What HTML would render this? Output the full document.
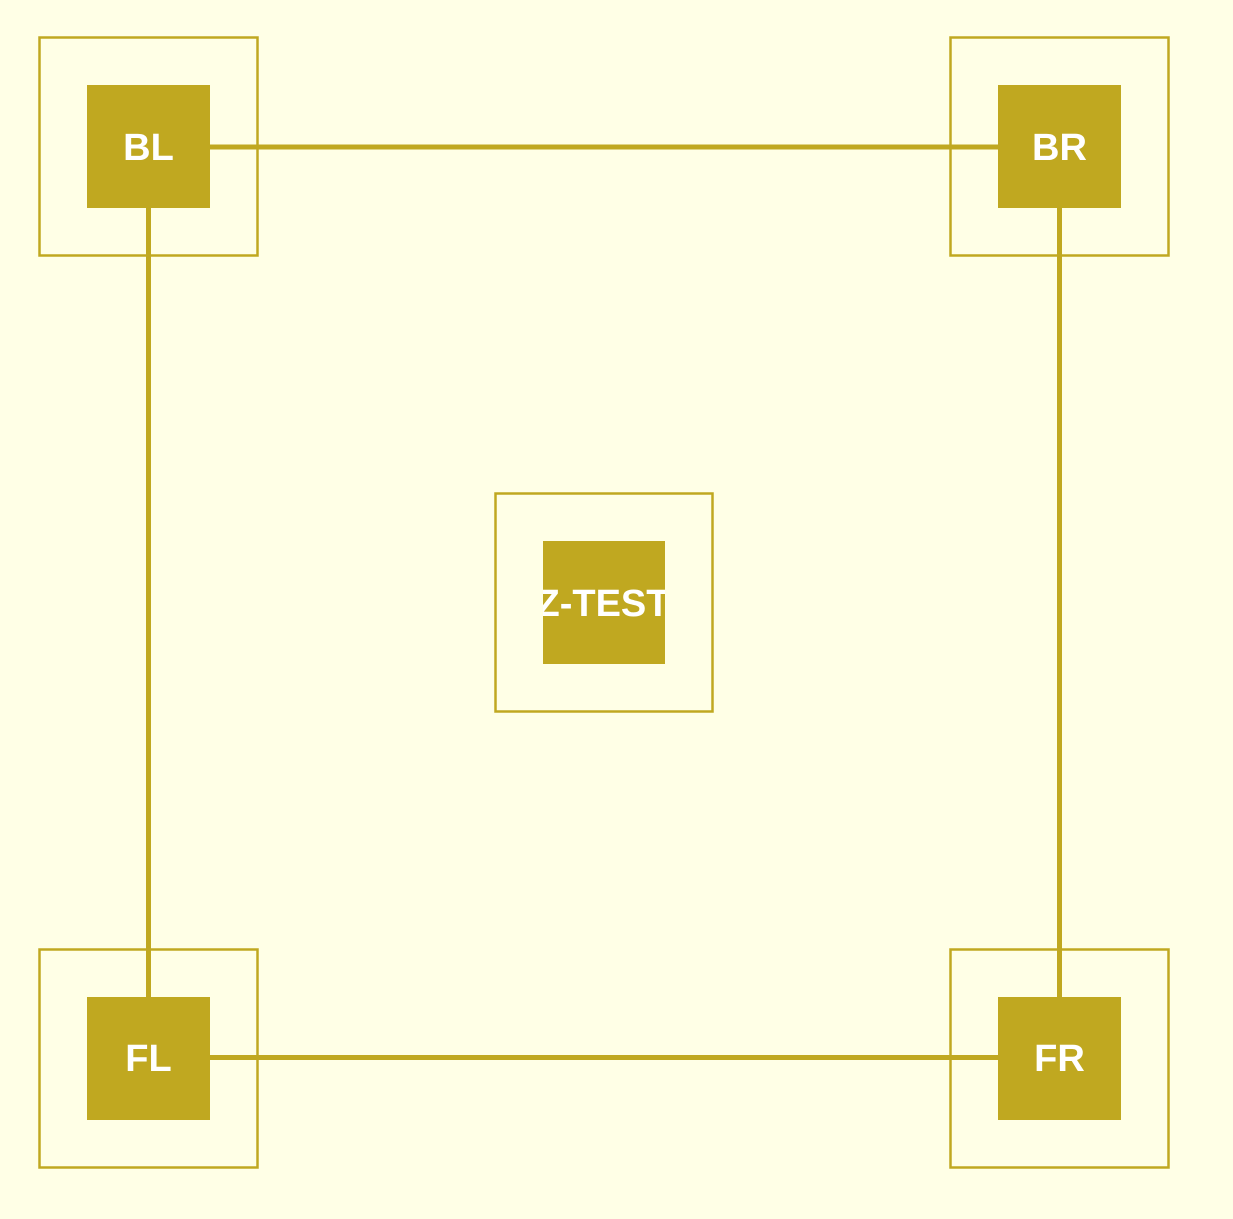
<!DOCTYPE html>
<html><head><style>
html,body{margin:0;padding:0;background:#ffffe6;}
svg{display:block}
text{font-family:"Liberation Sans",sans-serif;font-weight:bold;fill:#fff;}
</style></head><body>
<svg width="1233" height="1219" viewBox="0 0 1233 1219" xmlns="http://www.w3.org/2000/svg">
<rect width="1233" height="1219" fill="#ffffe6"/>
<defs><clipPath id="zc"><rect x="543" y="541" width="122" height="123"/></clipPath></defs>
<g fill="none" stroke="#c0a820" stroke-width="2.5">
<rect x="39.5" y="37.5" width="218" height="218"/>
<rect x="950.5" y="37.5" width="218" height="218"/>
<rect x="39.5" y="949.5" width="218" height="218"/>
<rect x="950.5" y="949.5" width="218" height="218"/>
<rect x="495.5" y="493.5" width="217" height="218"/>
</g>
<g stroke="#c0a820" stroke-width="5">
<line x1="148.5" y1="147" x2="1059.5" y2="147"/>
<line x1="148.5" y1="1057.5" x2="1059.5" y2="1057.5"/>
<line x1="148.5" y1="147" x2="148.5" y2="1057.5"/>
<line x1="1059.5" y1="147" x2="1059.5" y2="1057.5"/>
</g>
<g fill="#c0a820">
<rect x="87" y="85" width="123" height="123"/>
<rect x="998" y="85" width="123" height="123"/>
<rect x="87" y="997" width="123" height="123"/>
<rect x="998" y="997" width="123" height="123"/>
<rect x="543" y="541" width="122" height="123"/>
</g>
<g font-size="38" text-anchor="middle">
<text x="148.5" y="160">BL</text>
<text x="1059.5" y="160">BR</text>
<text x="148.5" y="1071">FL</text>
<text x="1059.5" y="1071">FR</text>
<text x="603" y="616" clip-path="url(#zc)">Z-TEST</text>
</g>
</svg>
</body></html>
